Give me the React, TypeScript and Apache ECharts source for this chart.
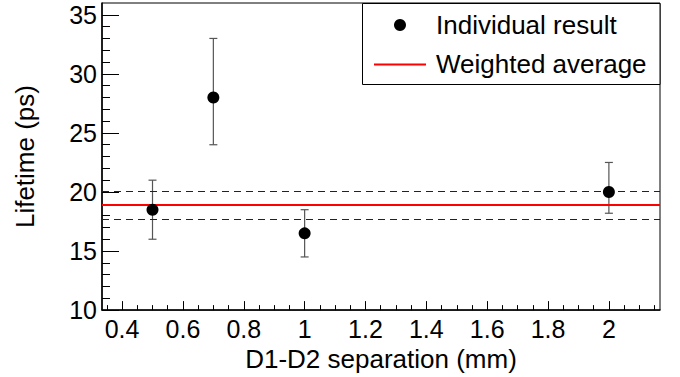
import React, { useEffect, useRef } from "react";
import * as echarts from "echarts";

const separations = [0.5, 0.7, 1, 2];
const lifetimes = [18.5, 28, 16.5, 20];
const errLow = [16, 24, 14.5, 18.2];
const errHigh = [21, 33, 18.5, 22.5];
const weightedAvg = 18.92;
const avgBandLow = 17.72;
const avgBandHigh = 20.09;

const xMajorTicks = [0.4, 0.6, 0.8, 1, 1.2, 1.4, 1.6, 1.8, 2];
const xMinorTicks = [
  0.35, 0.45, 0.5, 0.55, 0.65, 0.7, 0.75, 0.85, 0.9, 0.95, 1.05, 1.1, 1.15,
  1.25, 1.3, 1.35, 1.45, 1.5, 1.55, 1.65, 1.7, 1.75, 1.85, 1.9, 1.95, 2.05,
  2.1, 2.15,
];
const yMajorTicks = [10, 15, 20, 25, 30, 35];
const yMinorTicks = [
  11, 12, 13, 14, 16, 17, 18, 19, 21, 22, 23, 24, 26, 27, 28, 29, 31, 32, 33,
  34,
];

const FONT = "'Liberation Sans', Arial, Helvetica, sans-serif";
const X_MIN = 0.334;
const X_MAX = 2.168;
const Y_MIN = 10;
const Y_MAX = 36;

export default function App() {
  const ref = useRef<HTMLDivElement>(null);

  useEffect(() => {
    if (!ref.current) return;
    const chart = echarts.init(ref.current, null, { renderer: "svg" });

    const points = separations.map((x, i) => [x, lifetimes[i]]);
    const bars = separations.map((x, i) => [x, lifetimes[i], errLow[i], errHigh[i]]);

    const option: any = {
      animation: false,
      backgroundColor: "#fff",
      grid: {
        left: 102,
        right: 20,
        top: 3,
        bottom: 64,
        show: true,
        borderColor: "#000",
        borderWidth: 1,
        backgroundColor: "transparent",
      },
      xAxis: [
        {
          type: "value",
          min: X_MIN,
          max: X_MAX,
          position: "bottom",
          name: "D1-D2 separation (mm)",
          nameLocation: "middle",
          nameGap: 34,
          nameTextStyle: { fontFamily: FONT, fontSize: 26, color: "#000" },
          axisLine: { show: true, onZero: false, lineStyle: { color: "#000", width: 1.5 } },
          axisTick: {
            show: true,
            inside: true,
            length: 9,
            customValues: xMajorTicks,
            lineStyle: { color: "#000", width: 1 },
          },
          axisLabel: {
            show: true,
            customValues: xMajorTicks,
            margin: 6,
            fontFamily: FONT,
            fontSize: 25,
            color: "#000",
            formatter: (v: number) => String(Math.round(v * 10) / 10),
          },
          splitLine: { show: false },
        },
        {
          type: "value",
          min: X_MIN,
          max: X_MAX,
          position: "bottom",
          axisLine: { show: false },
          axisTick: {
            show: true,
            inside: true,
            length: 5,
            customValues: xMinorTicks,
            lineStyle: { color: "#000", width: 1 },
          },
          axisLabel: { show: false },
          splitLine: { show: false },
        },
      ],
      yAxis: [
        {
          type: "value",
          min: Y_MIN,
          max: Y_MAX,
          position: "left",
          name: "Lifetime (ps)",
          nameLocation: "middle",
          nameGap: 64,
          nameTextStyle: { fontFamily: FONT, fontSize: 26, color: "#000" },
          axisLine: { show: true, onZero: false, lineStyle: { color: "#000", width: 1.5 } },
          axisTick: {
            show: true,
            inside: true,
            length: 17,
            customValues: yMajorTicks,
            lineStyle: { color: "#000", width: 1 },
          },
          axisLabel: {
            show: true,
            customValues: yMajorTicks,
            margin: 5,
            fontFamily: FONT,
            fontSize: 25,
            color: "#000",
          },
          splitLine: { show: false },
        },
        {
          type: "value",
          min: Y_MIN,
          max: Y_MAX,
          position: "left",
          axisLine: { show: false },
          axisTick: {
            show: true,
            inside: true,
            length: 8,
            customValues: yMinorTicks,
            lineStyle: { color: "#000", width: 1 },
          },
          axisLabel: { show: false },
          splitLine: { show: false },
        },
      ],
      series: [
        {
          type: "custom",
          name: "errors",
          xAxisIndex: 0,
          yAxisIndex: 0,
          data: bars,
          z: 3,
          renderItem: (params: any, api: any) => {
            const x = api.value(0);
            const lo = api.value(2);
            const hi = api.value(3);
            const top = api.coord([x, hi]);
            const bot = api.coord([x, lo]);
            const cap = 4;
            const style = { stroke: "#555", lineWidth: 1.2 };
            return {
              type: "group",
              children: [
                { type: "line", shape: { x1: top[0], y1: top[1], x2: bot[0], y2: bot[1] }, style },
                { type: "line", shape: { x1: top[0] - cap, y1: top[1], x2: top[0] + cap, y2: top[1] }, style },
                { type: "line", shape: { x1: bot[0] - cap, y1: bot[1], x2: bot[0] + cap, y2: bot[1] }, style },
              ],
            };
          },
        },
        {
          type: "scatter",
          name: "Individual result",
          xAxisIndex: 0,
          yAxisIndex: 0,
          data: points,
          symbol: "circle",
          symbolSize: 12,
          itemStyle: { color: "#000", opacity: 1 },
          z: 5,
          markLine: {
            silent: true,
            symbol: ["none", "none"],
            label: { show: false },
            emphasis: { disabled: true },
            data: [
              { yAxis: avgBandHigh, lineStyle: { color: "#222", width: 1, type: [7, 5] } },
              { yAxis: avgBandLow, lineStyle: { color: "#222", width: 1, type: [7, 5] } },
              { yAxis: weightedAvg, lineStyle: { color: "#ff0000", width: 2, type: "solid" } },
            ],
          },
        },
      ],
      graphic: [
        {
          type: "group",
          z: 100,
          children: [
            {
              type: "rect",
              shape: { x: 362.5, y: 3.5, width: 297.5, height: 81 },
              style: { fill: "#fff", stroke: "#000", lineWidth: 1 },
            },
            {
              type: "circle",
              shape: { cx: 400, cy: 25, r: 6 },
              style: { fill: "#000" },
            },
            {
              type: "text",
              x: 436,
              y: 25,
              style: {
                text: "Individual result",
                fontFamily: FONT,
                fontSize: 26,
                fill: "#000",
                verticalAlign: "middle",
                align: "left",
              },
            },
            {
              type: "line",
              shape: { x1: 374, y1: 64.5, x2: 426, y2: 64.5 },
              style: { stroke: "#ff0000", lineWidth: 2 },
            },
            {
              type: "text",
              x: 436,
              y: 64,
              style: {
                text: "Weighted average",
                fontFamily: FONT,
                fontSize: 26,
                fill: "#000",
                verticalAlign: "middle",
                align: "left",
              },
            },
          ],
        },
      ],
    };

    chart.setOption(option);
    return () => chart.dispose();
  }, []);

  return (
    <div
      ref={ref}
      style={{ position: "fixed", left: 0, top: 0, width: 680, height: 377, background: "#fff" }}
    />
  );
}
